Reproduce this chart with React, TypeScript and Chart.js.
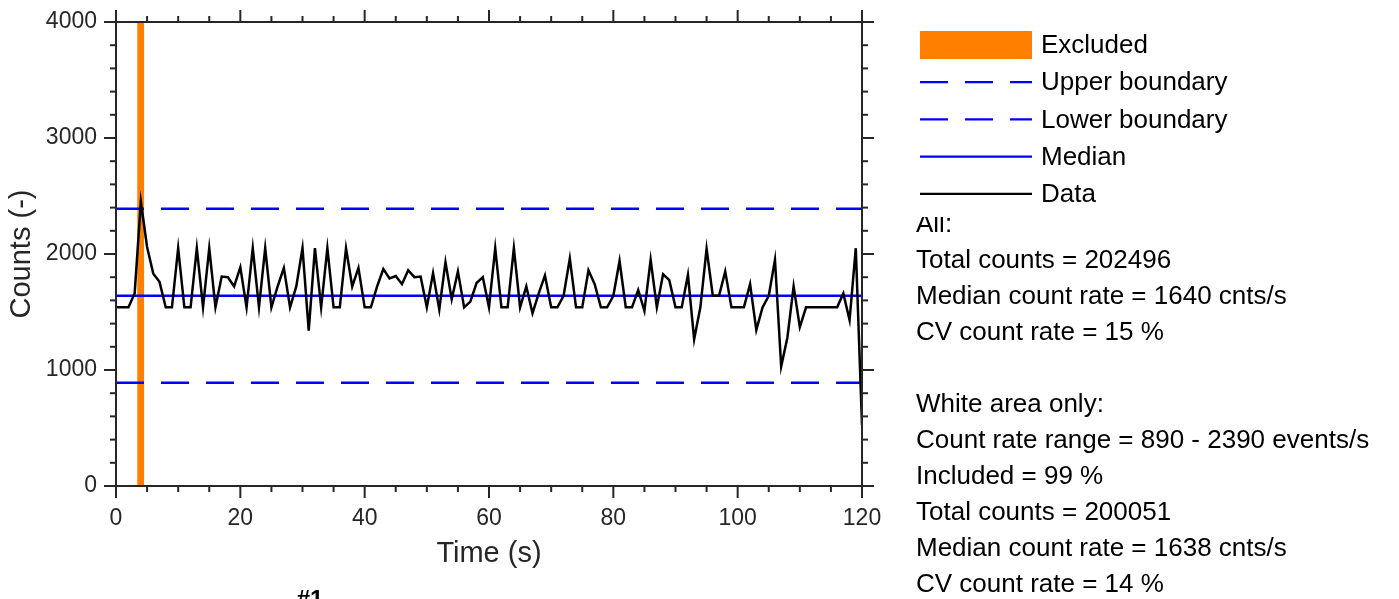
import React, { useEffect, useRef } from "react";
import { Chart, registerables } from "chart.js";

Chart.register(...registerables);

// Count rate per 1-second bin (t = 0 ... 120 s)
const counts = [
  1540, 1540, 1540, 1660, 2450, 2060, 1830, 1760, 1540, 1540,
  2050, 1540, 1540, 2050, 1540, 2050, 1540, 1805, 1800, 1720,
  1885, 1540, 2050, 1540, 2050, 1540, 1720, 1880, 1540, 1720,
  2050, 1340, 2050, 1540, 2050, 1540, 1540, 2050, 1720, 1880,
  1540, 1540, 1720, 1870, 1790, 1810, 1740, 1860, 1800, 1805,
  1540, 1835, 1520, 1930, 1610, 1850, 1540, 1590, 1750, 1800,
  1540, 2050, 1540, 1540, 2050, 1540, 1720, 1490, 1660, 1815,
  1540, 1540, 1640, 1960, 1540, 1540, 1860, 1740, 1540, 1540,
  1640, 1940, 1540, 1540, 1690, 1510, 1950, 1540, 1825, 1775,
  1540, 1540, 1820, 1265, 1540, 2045, 1640, 1640, 1850, 1540,
  1540, 1540, 1740, 1345, 1540, 1640, 1950, 1030, 1280, 1720,
  1370, 1540, 1540, 1540, 1540, 1540, 1540, 1660, 1430, 2050,
  526,
];
const times = counts.map((_, i) => i); // one bin per second

const upperBoundary = 2390;
const lowerBoundary = 890;
const medianRate = 1640;
const excludedStart = 3.4;
const excludedEnd = 4.55;

const xMin = 0;
const xMax = 120;
const xMajorStep = 20;
const xMinorStep = 5;
const yMin = 0;
const yMax = 4000;
const yMajorStep = 1000;
const yMinorStep = 200;

const xTitle = "Time (s)";
const yTitle = "Counts (-)";
const legendLabels = ["Excluded", "Upper boundary", "Lower boundary", "Median", "Data"];
const statsLines = [
  "All:",
  "Total counts = 202496",
  "Median count rate = 1640 cnts/s",
  "CV count rate = 15 %",
  "",
  "White area only:",
  "Count rate range = 890 - 2390 events/s",
  "Included = 99 %",
  "Total counts = 200051",
  "Median count rate = 1638 cnts/s",
  "CV count rate = 14 %",
];
const panelTitle = "#1";

const FONT = "'Liberation Sans', Arial, Helvetica, sans-serif";
const AXIS = "#262626";
const ORANGE = "#ff8000";
const BLUE = "#0000ff";
const DASH = [28, 17];

const framePlugin = {
  id: "frame",
  afterDatasetsDraw(chart: any) {
    const { ctx, chartArea: a, scales } = chart;
    const x = scales.x;
    const y = scales.y;
    ctx.save();
    ctx.strokeStyle = AXIS;
    ctx.lineWidth = 2;
    ctx.lineCap = "butt";
    ctx.strokeRect(a.left, a.top, a.right - a.left, a.bottom - a.top);
    const seg = (x1: number, y1: number, x2: number, y2: number) => {
      ctx.beginPath();
      ctx.moveTo(x1, y1);
      ctx.lineTo(x2, y2);
      ctx.stroke();
    };
    for (let v = xMin; v <= xMax; v += xMinorStep) {
      const px = x.getPixelForValue(v);
      const len = v % xMajorStep === 0 ? 12 : 6;
      seg(px, a.bottom, px, a.bottom + len);
      seg(px, a.top, px, a.top - len);
    }
    for (let v = yMin; v <= yMax; v += yMinorStep) {
      const py = y.getPixelForValue(v);
      const len = v % yMajorStep === 0 ? 12 : 6;
      seg(a.left, py, a.left - len, py);
      seg(a.right, py, a.right + len, py);
    }
    ctx.restore();
  },
  afterDraw(chart: any) {
    const { ctx } = chart;
    ctx.save();
    // statistics text
    ctx.fillStyle = "#000";
    ctx.font = `26px ${FONT}`;
    ctx.textAlign = "left";
    ctx.textBaseline = "alphabetic";
    statsLines.forEach((t, i) => {
      if (t) ctx.fillText(t, 916, 232 + 36 * i);
    });
    // legend box (covers top of first stats line)
    ctx.fillStyle = "#fff";
    ctx.fillRect(905, 18, 385, 199);
    const rowY = (i: number) => 45 + 37.2 * i;
    const sx1 = 920;
    const sx2 = 1032;
    // Excluded
    ctx.fillStyle = ORANGE;
    ctx.fillRect(sx1, rowY(0) - 14, sx2 - sx1, 28);
    ctx.lineWidth = 2.3;
    const legLine = (i: number, color: string, dash: number[]) => {
      ctx.strokeStyle = color;
      ctx.setLineDash(dash);
      ctx.beginPath();
      ctx.moveTo(sx1, rowY(i));
      ctx.lineTo(sx2, rowY(i));
      ctx.stroke();
      ctx.setLineDash([]);
    };
    legLine(1, BLUE, DASH);
    legLine(2, BLUE, DASH);
    legLine(3, BLUE, []);
    legLine(4, "#000", []);
    ctx.fillStyle = "#000";
    ctx.font = `26px ${FONT}`;
    ctx.textBaseline = "middle";
    legendLabels.forEach((t, i) => ctx.fillText(t, 1041, rowY(i) + 1));
    // panel title (cut at bottom)
    ctx.font = `bold 24px ${FONT}`;
    ctx.textAlign = "center";
    ctx.textBaseline = "top";
    ctx.fillText(panelTitle, 310, 588);
    ctx.restore();
  },
};

export default function App() {
  const ref = useRef<HTMLCanvasElement>(null);
  useEffect(() => {
    document.body.style.margin = "0";
    const canvas = ref.current;
    if (!canvas) return;
    const chart = new Chart(canvas, {
      type: "line",
      data: {
        datasets: [
          {
            label: "Data",
            data: times.map((t, i) => ({ x: t, y: counts[i] })),
            borderColor: "#000",
            borderWidth: 2.5,
            pointRadius: 0,
            tension: 0,
            fill: false,
            order: 0,
          },
          {
            label: "Median",
            data: [
              { x: xMin, y: medianRate },
              { x: xMax, y: medianRate },
            ],
            borderColor: BLUE,
            borderWidth: 2.3,
            pointRadius: 0,
            fill: false,
            order: 1,
          },
          {
            label: "Upper boundary",
            data: [
              { x: xMin, y: upperBoundary },
              { x: xMax, y: upperBoundary },
            ],
            borderColor: BLUE,
            borderWidth: 2.3,
            borderDash: DASH,
            pointRadius: 0,
            fill: false,
            order: 2,
          },
          {
            label: "Lower boundary",
            data: [
              { x: xMin, y: lowerBoundary },
              { x: xMax, y: lowerBoundary },
            ],
            borderColor: BLUE,
            borderWidth: 2.3,
            borderDash: DASH,
            pointRadius: 0,
            fill: false,
            order: 2,
          },
          {
            label: "Excluded",
            data: [
              { x: excludedStart, y: yMax },
              { x: excludedEnd, y: yMax },
            ],
            borderColor: "rgba(0,0,0,0)",
            borderWidth: 0,
            backgroundColor: ORANGE,
            pointRadius: 0,
            fill: "origin",
            order: 3,
          },
        ],
      },
      options: {
        responsive: false,
        animation: false,
        events: [],
        layout: { padding: { top: 22, right: 1399 - 862, bottom: 0, left: 0 } },
        plugins: {
          legend: { display: false },
          tooltip: { enabled: false },
        },
        scales: {
          x: {
            type: "linear",
            min: xMin,
            max: xMax,
            afterFit: (s: any) => {
              s.height = 113;
              s.paddingLeft = 0;
              s.paddingRight = 0;
            },
            grid: { display: false, drawTicks: false },
            border: { display: false },
            ticks: {
              stepSize: xMajorStep,
              autoSkip: false,
              maxRotation: 0,
              padding: 19,
              color: AXIS,
              font: { family: FONT, size: 23 },
              callback: (v: any) => String(v),
            },
            title: {
              display: true,
              text: xTitle,
              color: AXIS,
              font: { family: FONT, size: 29 },
              padding: { top: 0, bottom: 28 },
            },
          },
          y: {
            type: "linear",
            min: yMin,
            max: yMax,
            afterFit: (s: any) => {
              s.width = 116;
              s.paddingTop = 0;
              s.paddingBottom = 0;
            },
            grid: { display: false, drawTicks: false },
            border: { display: false },
            ticks: {
              stepSize: yMajorStep,
              padding: 19,
              color: AXIS,
              font: { family: FONT, size: 23 },
              callback: (v: any) => String(v),
            },
            title: {
              display: true,
              text: yTitle,
              color: AXIS,
              font: { family: FONT, size: 29 },
              padding: { top: 5, bottom: 0 },
            },
          },
        },
      },
      plugins: [framePlugin],
    } as any);
    return () => chart.destroy();
  }, []);
  return (
    <canvas
      ref={ref}
      width={1399}
      height={599}
      style={{ display: "block", width: "1399px", height: "599px" }}
    />
  );
}
